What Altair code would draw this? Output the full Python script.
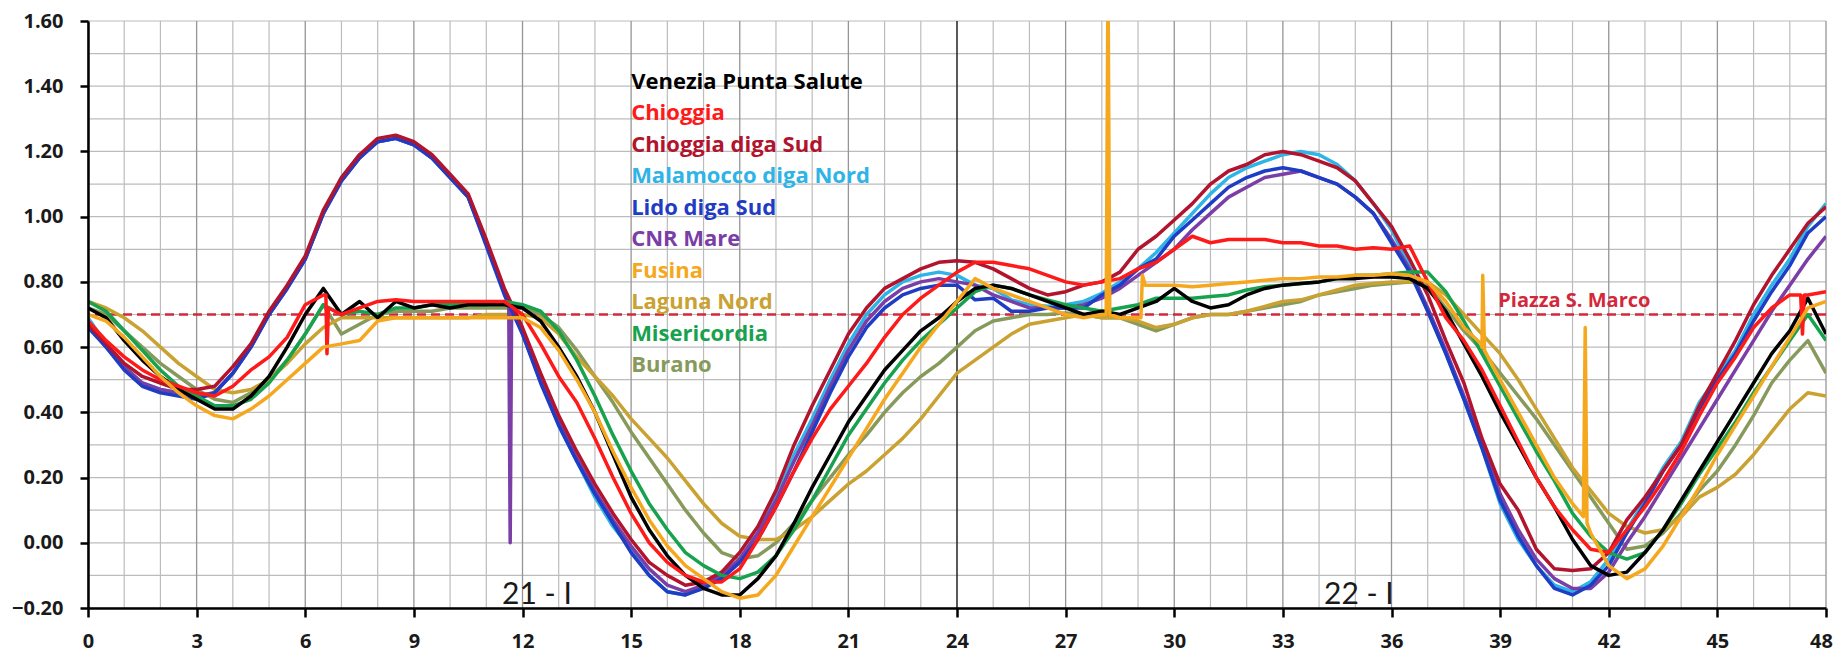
import altair as alt
import pandas as pd

# ---------------- data ----------------
HOURS = [i * 0.5 for i in range(97)]  # 0 .. 48 h, every 30 min

NAMES = ["Venezia Punta Salute", "Chioggia", "Chioggia diga Sud", "Malamocco diga Nord",
         "Lido diga Sud", "CNR Mare", "Fusina", "Laguna Nord", "Misericordia", "Burano"]
COLORS = ["#000000", "#FF1A1A", "#B2142E", "#2EB4E6", "#1F3DC4", "#7A3EA6",
          "#F5A81E", "#C9A231", "#17A24E", "#879A5C"]

VENEZIA = [0.72, 0.69, 0.62, 0.56, 0.51, 0.47, 0.44, 0.41, 0.41, 0.45,
           0.51, 0.60, 0.70, 0.78, 0.70, 0.74, 0.69, 0.74, 0.72, 0.73,
           0.72, 0.73, 0.73, 0.73, 0.72, 0.68, 0.60, 0.51, 0.40, 0.27,
           0.14, 0.04, -0.04, -0.10, -0.14, -0.16, -0.16, -0.11, -0.04, 0.06,
           0.17, 0.27, 0.37, 0.45, 0.53, 0.59, 0.65, 0.69, 0.74, 0.78,
           0.79, 0.78, 0.76, 0.74, 0.72, 0.70, 0.71, 0.70, 0.72, 0.74,
           0.78, 0.74, 0.72, 0.73, 0.76, 0.78, 0.79, 0.795, 0.80, 0.81,
           0.81, 0.815, 0.815, 0.81, 0.78, 0.71, 0.61, 0.51, 0.40, 0.30,
           0.20, 0.11, 0.01, -0.07, -0.10, -0.09, -0.03, 0.04, 0.13, 0.22,
           0.31, 0.40, 0.49, 0.58, 0.65, 0.75, 0.64]
CHIOGGIA = [0.68, 0.62, 0.57, 0.53, 0.50, 0.48, 0.46, 0.45, 0.48, 0.53,
            0.57, 0.63, 0.73, 0.76, 0.70, 0.72, 0.74, 0.745, 0.74, 0.74,
            0.74, 0.74, 0.74, 0.74, 0.70, 0.61, 0.51, 0.43, 0.32, 0.20,
            0.09, 0.00, -0.06, -0.10, -0.12, -0.12, -0.08, 0.01, 0.11, 0.22,
            0.32, 0.41, 0.48, 0.55, 0.63, 0.70, 0.75, 0.79, 0.83, 0.86,
            0.86, 0.85, 0.84, 0.82, 0.80, 0.79, 0.80, 0.81, 0.84, 0.86,
            0.90, 0.94, 0.92, 0.93, 0.93, 0.93, 0.92, 0.92, 0.91, 0.91,
            0.90, 0.905, 0.90, 0.91, 0.80, 0.69, 0.62, 0.53, 0.42, 0.31,
            0.20, 0.11, 0.04, -0.02, -0.03, 0.04, 0.11, 0.19, 0.28, 0.39,
            0.49, 0.57, 0.66, 0.72, 0.76, 0.76, 0.77]
CHIOGGIA_DS = [0.67, 0.61, 0.55, 0.51, 0.49, 0.47, 0.47, 0.48, 0.54, 0.61,
               0.71, 0.79, 0.88, 1.02, 1.12, 1.19, 1.24, 1.25, 1.23, 1.19,
               1.13, 1.07, 0.93, 0.78, 0.66, 0.52, 0.39, 0.28, 0.18, 0.09,
               0.01, -0.06, -0.10, -0.13, -0.12, -0.09, -0.03, 0.05, 0.16, 0.30,
               0.42, 0.53, 0.64, 0.72, 0.78, 0.81, 0.84, 0.86, 0.865, 0.86,
               0.84, 0.81, 0.78, 0.76, 0.77, 0.79, 0.80, 0.83, 0.90, 0.94,
               0.99, 1.04, 1.10, 1.14, 1.16, 1.19, 1.20, 1.19, 1.17, 1.15,
               1.11, 1.04, 0.97, 0.87, 0.76, 0.62, 0.49, 0.32, 0.18, 0.10,
               -0.02, -0.08, -0.085, -0.08, -0.03, 0.07, 0.14, 0.22, 0.30, 0.42,
               0.52, 0.62, 0.73, 0.82, 0.90, 0.98, 1.03]
MALAMOCCO = [0.69, 0.61, 0.54, 0.49, 0.47, 0.46, 0.45, 0.46, 0.52, 0.60,
             0.70, 0.78, 0.87, 1.01, 1.12, 1.19, 1.23, 1.24, 1.22, 1.18,
             1.12, 1.06, 0.92, 0.77, 0.65, 0.50, 0.36, 0.25, 0.14, 0.05,
             -0.02, -0.10, -0.15, -0.16, -0.13, -0.10, -0.05, 0.03, 0.14, 0.27,
             0.38, 0.50, 0.61, 0.70, 0.76, 0.80, 0.82, 0.83, 0.82, 0.79,
             0.78, 0.745, 0.73, 0.725, 0.73, 0.74, 0.765, 0.80, 0.84, 0.89,
             0.95, 1.01, 1.07, 1.12, 1.15, 1.17, 1.19, 1.20, 1.19, 1.16,
             1.11, 1.04, 0.96, 0.85, 0.71, 0.58, 0.44, 0.29, 0.12, 0.01,
             -0.07, -0.13, -0.15, -0.12, -0.05, 0.04, 0.13, 0.23, 0.31, 0.43,
             0.51, 0.59, 0.70, 0.79, 0.87, 0.97, 1.04]
LIDO = [0.66, 0.60, 0.53, 0.48, 0.46, 0.45, 0.44, 0.46, 0.52, 0.60,
        0.70, 0.78, 0.87, 1.01, 1.11, 1.18, 1.23, 1.24, 1.22, 1.18,
        1.12, 1.06, 0.91, 0.76, 0.64, 0.49, 0.36, 0.25, 0.15, 0.06,
        -0.03, -0.10, -0.15, -0.16, -0.14, -0.11, -0.06, 0.01, 0.11, 0.22,
        0.34, 0.46, 0.57, 0.66, 0.72, 0.76, 0.78, 0.79, 0.79, 0.745,
        0.75, 0.71, 0.71, 0.72, 0.72, 0.72, 0.76, 0.79, 0.84, 0.87,
        0.94, 0.99, 1.04, 1.09, 1.12, 1.14, 1.15, 1.14, 1.12, 1.10,
        1.06, 1.01, 0.92, 0.83, 0.71, 0.58, 0.44, 0.29, 0.13, 0.02,
        -0.07, -0.14, -0.16, -0.13, -0.07, 0.03, 0.12, 0.22, 0.30, 0.41,
        0.50, 0.58, 0.68, 0.77, 0.85, 0.95, 1.00]
CNR = [0.67, 0.60, 0.54, 0.49, 0.47, 0.46, 0.45, 0.46, 0.52, 0.60,
       0.70, 0.78, 0.87, 1.01, 1.11, 1.18, 1.23, 1.24, 1.22, 1.18,
       1.12, 1.06, 0.92, 0.77, 0.64, 0.50, 0.37, 0.26, 0.16, 0.07,
       -0.01, -0.08, -0.13, -0.15, -0.13, -0.10, -0.05, 0.03, 0.13, 0.25,
       0.36, 0.48, 0.59, 0.68, 0.74, 0.78, 0.80, 0.81, 0.80, 0.79,
       0.76, 0.74, 0.72, 0.72, 0.72, 0.73, 0.75, 0.78, 0.82, 0.86,
       0.90, 0.96, 1.01, 1.06, 1.09, 1.12, 1.13, 1.14, 1.12, 1.10,
       1.06, 1.01, 0.93, 0.84, 0.72, 0.59, 0.45, 0.31, 0.15, 0.04,
       -0.05, -0.11, -0.14, -0.14, -0.09, 0.00, 0.08, 0.17, 0.26, 0.35,
       0.44, 0.53, 0.62, 0.71, 0.79, 0.87, 0.94]
FUSINA = [0.70, 0.68, 0.63, 0.57, 0.51, 0.46, 0.42, 0.39, 0.38, 0.41,
          0.45, 0.50, 0.55, 0.60, 0.61, 0.62, 0.68, 0.69, 0.69, 0.69,
          0.69, 0.69, 0.69, 0.69, 0.69, 0.66, 0.59, 0.50, 0.40, 0.28,
          0.17, 0.07, -0.01, -0.07, -0.11, -0.15, -0.17, -0.16, -0.10, -0.01,
          0.08, 0.17, 0.26, 0.35, 0.44, 0.52, 0.60, 0.67, 0.74, 0.81,
          0.78, 0.76, 0.74, 0.72, 0.70, 0.69, 0.70, 0.69, 0.69, 0.79,
          0.79, 0.785, 0.79, 0.795, 0.80, 0.805, 0.81, 0.81, 0.815, 0.815,
          0.82, 0.82, 0.825, 0.82, 0.80, 0.74, 0.66, 0.60, 0.50, 0.40,
          0.30, 0.20, 0.12, 0.03, -0.07, -0.11, -0.08, -0.01, 0.08, 0.17,
          0.27, 0.36, 0.45, 0.54, 0.63, 0.72, 0.74]
LAGUNA_NORD = [0.74, 0.72, 0.69, 0.65, 0.60, 0.55, 0.51, 0.47, 0.46, 0.47,
               0.50, 0.55, 0.61, 0.66, 0.69, 0.69, 0.69, 0.69, 0.69, 0.69,
               0.69, 0.69, 0.70, 0.70, 0.70, 0.69, 0.64, 0.57, 0.51, 0.45,
               0.38, 0.32, 0.26, 0.19, 0.12, 0.06, 0.02, 0.01, 0.01, 0.04,
               0.08, 0.13, 0.18, 0.22, 0.27, 0.32, 0.38, 0.45, 0.52, 0.56,
               0.60, 0.64, 0.67, 0.68, 0.69, 0.70, 0.69, 0.69, 0.68, 0.66,
               0.67, 0.69, 0.70, 0.70, 0.71, 0.725, 0.74, 0.745, 0.76, 0.775,
               0.79, 0.795, 0.80, 0.80, 0.80, 0.76, 0.70, 0.64, 0.58, 0.50,
               0.41, 0.32, 0.23, 0.16, 0.09, 0.05, 0.03, 0.04, 0.08, 0.14,
               0.17, 0.21, 0.27, 0.34, 0.41, 0.46, 0.45]
MISERICORDIA = [0.74, 0.71, 0.65, 0.59, 0.53, 0.48, 0.45, 0.42, 0.42, 0.44,
                0.49, 0.56, 0.64, 0.73, 0.70, 0.71, 0.70, 0.72, 0.72, 0.73,
                0.73, 0.73, 0.73, 0.74, 0.73, 0.71, 0.65, 0.56, 0.45, 0.33,
                0.22, 0.12, 0.04, -0.03, -0.07, -0.10, -0.11, -0.09, -0.04, 0.04,
                0.13, 0.23, 0.33, 0.41, 0.49, 0.56, 0.62, 0.67, 0.72, 0.77,
                0.79, 0.78, 0.76, 0.745, 0.73, 0.72, 0.71, 0.72, 0.73, 0.75,
                0.75, 0.75, 0.755, 0.76, 0.775, 0.785, 0.79, 0.795, 0.80, 0.81,
                0.82, 0.82, 0.825, 0.83, 0.83, 0.77, 0.68, 0.58, 0.48, 0.38,
                0.28, 0.19, 0.09, 0.02, -0.03, -0.05, -0.03, 0.04, 0.12, 0.21,
                0.29, 0.37, 0.46, 0.54, 0.62, 0.70, 0.62]
BURANO = [0.72, 0.70, 0.65, 0.60, 0.55, 0.51, 0.47, 0.44, 0.43, 0.46,
          0.50, 0.56, 0.64, 0.73, 0.64, 0.67, 0.70, 0.71, 0.71, 0.71,
          0.72, 0.72, 0.72, 0.72, 0.72, 0.70, 0.66, 0.59, 0.51, 0.43,
          0.34, 0.26, 0.18, 0.10, 0.03, -0.03, -0.05, -0.04, 0.00, 0.06,
          0.13, 0.20, 0.27, 0.33, 0.40, 0.46, 0.51, 0.55, 0.60, 0.65,
          0.68, 0.69, 0.70, 0.70, 0.705, 0.70, 0.69, 0.69, 0.67, 0.65,
          0.67, 0.69, 0.70, 0.70, 0.71, 0.72, 0.73, 0.74, 0.76, 0.77,
          0.78, 0.79, 0.795, 0.80, 0.79, 0.72, 0.65, 0.59, 0.52, 0.45,
          0.38, 0.30, 0.22, 0.14, 0.06, -0.02, -0.01, 0.03, 0.09, 0.16,
          0.22, 0.30, 0.39, 0.49, 0.56, 0.62, 0.52]

# short spikes in the records
CHIOGGIA_SPIKE_H = [6.57, 6.60, 6.64, 47.30, 47.35, 47.40]
CHIOGGIA_SPIKE_V = [0.76, 0.58, 0.72, 0.76, 0.64, 0.76]
CNR_SPIKE_H = [11.62, 11.66, 11.70]
CNR_SPIKE_V = [0.74, 0.00, 0.72]
FUSINA_SPIKE_H = [28.12, 28.17, 28.22, 29.08, 29.12, 29.20, 38.47, 38.52, 38.57, 41.30, 41.35, 41.40]
FUSINA_SPIKE_V = [0.70, 1.75, 0.70, 0.69, 0.82, 0.79, 0.61, 0.82, 0.59, 0.08, 0.66, 0.06]

X_TICKS = list(range(0, 49, 3))
Y_TICKS = [-0.2, 0.0, 0.2, 0.4, 0.6, 0.8, 1.0, 1.2, 1.4, 1.6]
PIAZZA_LEVEL = 0.70
PIAZZA_TEXT = "Piazza S. Marco"
DAY_TEXTS = ["21 - I", "22 - I"]
DAY_HOURS = [12.4, 35.1]

# ---------------- build tables ----------------
SERIES = {
    "Venezia Punta Salute": (VENEZIA, [], []),
    "Chioggia": (CHIOGGIA, CHIOGGIA_SPIKE_H, CHIOGGIA_SPIKE_V),
    "Chioggia diga Sud": (CHIOGGIA_DS, [], []),
    "Malamocco diga Nord": (MALAMOCCO, [], []),
    "Lido diga Sud": (LIDO, [], []),
    "CNR Mare": (CNR, CNR_SPIKE_H, CNR_SPIKE_V),
    "Fusina": (FUSINA, FUSINA_SPIKE_H, FUSINA_SPIKE_V),
    "Laguna Nord": (LAGUNA_NORD, [], []),
    "Misericordia": (MISERICORDIA, [], []),
    "Burano": (BURANO, [], []),
}
frames = {}
for name, (vals, sh, sv) in SERIES.items():
    assert len(vals) == len(HOURS), name
    df = pd.DataFrame({"h": HOURS + sh, "v": vals + sv})
    df["series"] = name
    frames[name] = df.sort_values("h").reset_index(drop=True)

FONT = "Open Sans"
TXT = "#1a1a1a"

xscale = alt.Scale(domain=[0, 48], nice=False, zero=False)
yscale = alt.Scale(domain=[-0.2, 1.6], nice=False, zero=False)
XAXIS = alt.Axis(values=X_TICKS, title=None, grid=False, domainColor="black", domainWidth=2.5,
                 ticks=True, tickColor="black", tickWidth=2.5, tickSize=9, labelFont=FONT,
                 labelFontWeight="bold", labelFontSize=20, labelColor=TXT, labelPadding=14,
                 labelFlush=False, labelOverlap=False, zindex=2,
                 labelOffset={"condition": {"test": "datum.value == 48", "value": -5}, "value": 0})
YAXIS = alt.Axis(values=Y_TICKS, format=".2f", title=None, grid=False, domainColor="black",
                 domainWidth=2.5, ticks=True, tickColor="black", tickWidth=2.5, tickSize=8,
                 labelFont=FONT, labelFontWeight="bold", labelFontSize=20, labelColor=TXT,
                 labelPadding=17, labelFlush=False, labelOverlap=False, zindex=2)
X = alt.X("h:Q", scale=xscale, axis=XAXIS)
Y = alt.Y("v:Q", scale=yscale, axis=YAXIS)
cscale = alt.Scale(domain=NAMES, range=COLORS)

# grid
minor_v = pd.DataFrame({"h": [h for h in range(49) if h % 3 != 0]})
major_v = pd.DataFrame({"h": [h for h in range(0, 49, 3) if h != 24]})
day_v = pd.DataFrame({"h": [24]})
grid_h = pd.DataFrame({"v": [round(-0.2 + 0.1 * i, 2) for i in range(19)]})

layers = [
    alt.Chart(grid_h).mark_rule(color="#bcbcbc", strokeWidth=1.2).encode(y=Y),
    alt.Chart(minor_v).mark_rule(color="#bcbcbc", strokeWidth=1.2).encode(x=X),
    alt.Chart(major_v).mark_rule(color="#959595", strokeWidth=1.3).encode(x=X),
    alt.Chart(day_v).mark_rule(color="#222222", strokeWidth=1.5).encode(x=X),
    alt.Chart(pd.DataFrame({"v": [PIAZZA_LEVEL]})).mark_rule(
        color="#D4283A", strokeWidth=2.5, strokeDash=[9, 5]).encode(y=Y),
]

DRAW_ORDER = ["Burano", "Laguna Nord", "Malamocco diga Nord", "CNR Mare", "Lido diga Sud",
              "Chioggia diga Sud", "Misericordia", "Venezia Punta Salute", "Chioggia", "Fusina"]
for name in DRAW_ORDER:
    layers.append(
        alt.Chart(frames[name]).mark_line(strokeWidth=3.5, clip=True, strokeJoin="round").encode(
            x=X, y=Y, color=alt.Color("series:N", scale=cscale, legend=None)))

# legend written inside the plot
LEGEND_H = 15.0
LEGEND_TOP = 1.413
LEGEND_STEP = 0.0965
legend_df = pd.DataFrame({"series": NAMES,
                          "h": [LEGEND_H] * len(NAMES),
                          "v": [LEGEND_TOP - LEGEND_STEP * i for i in range(len(NAMES))]})
layers.append(alt.Chart(legend_df).mark_text(
    align="left", baseline="middle", font=FONT, fontWeight="bold", fontSize=22).encode(
    x=X, y=Y, text="series:N", color=alt.Color("series:N", scale=cscale, legend=None)))

layers.append(alt.Chart(pd.DataFrame({"h": [38.95], "v": [0.722], "t": [PIAZZA_TEXT]})).mark_text(
    align="left", baseline="alphabetic", font=FONT, fontWeight="bold", fontSize=20,
    color="#D4283A").encode(x=X, y=Y, text="t:N"))

layers.append(alt.Chart(pd.DataFrame({"h": DAY_HOURS, "v": [-0.188, -0.188], "t": DAY_TEXTS})).mark_text(
    align="center", baseline="alphabetic", font="Lato", fontSize=30, color=TXT).encode(
    x=X, y=Y, text="t:N"))

chart = alt.layer(*layers).properties(
    width=1738, height=587,
    padding={"left": 80, "top": 13, "right": 10, "bottom": 44},
    autosize=alt.AutoSizeParams(type="none"),
    background="white",
).configure_view(stroke=None)

chart.save("out.html", embed_options={"renderer": "svg", "actions": False})
